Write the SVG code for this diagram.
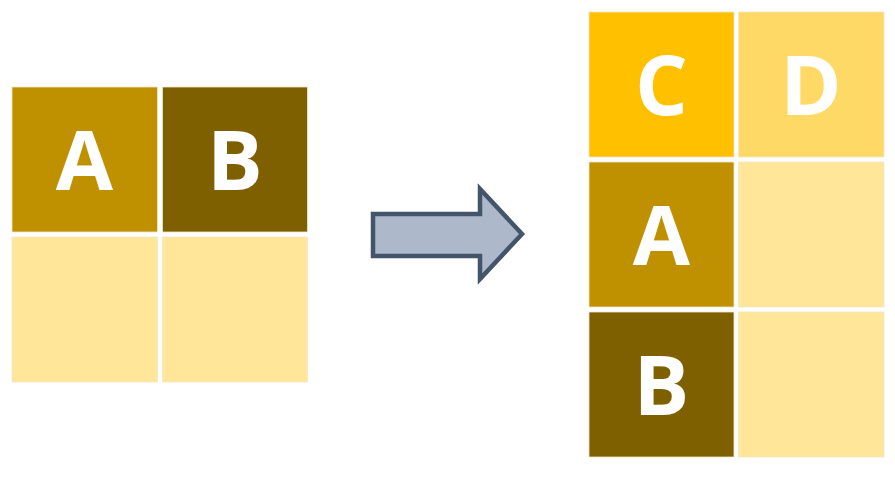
<svg xmlns="http://www.w3.org/2000/svg" width="895" height="495" viewBox="0 0 895 495">
<style>
.cell{stroke:#f2e6c8;stroke-width:0.8}
.lbl{font-family:"Open Sans","Liberation Sans",sans-serif;font-weight:bold;font-size:83px;fill:#ffffff;text-anchor:middle}
.a{fill:#bf9000}.b{fill:#7f6000}.c{fill:#ffc000}.d{fill:#ffd966}.l{fill:#ffe699}
</style>
<rect width="895" height="495" fill="#ffffff"/>
<g id="left-A"><rect class="cell a" x="12" y="87" width="145.5" height="145"/><text class="lbl" x="84.5" y="190">A</text></g>
<g id="left-B"><rect class="cell b" x="162.5" y="87" width="145" height="145"/><text class="lbl" x="235" y="190">B</text></g>
<g id="left-E1"><rect class="cell l" x="12" y="237" width="145.5" height="145"/></g>
<g id="left-E2"><rect class="cell l" x="162.5" y="237" width="145" height="145"/></g>
<g id="connectors">
<path d="M373,214 L480,214 L480,189 L522,234 L480,279 L480,256 L373,256 Z" fill="#adb9ca" stroke="#44546a" stroke-width="4.5" stroke-linejoin="miter"/>
</g>
<g id="right-C"><rect class="cell c" x="589" y="12" width="145" height="145"/><text class="lbl" x="661.5" y="115">C</text></g>
<g id="right-D"><rect class="cell d" x="738.5" y="12" width="145.5" height="145"/><text class="lbl" x="811" y="115">D</text></g>
<g id="right-A"><rect class="cell a" x="589" y="162" width="145" height="145"/><text class="lbl" x="661.5" y="265">A</text></g>
<g id="right-E1"><rect class="cell l" x="738.5" y="162" width="145.5" height="145"/></g>
<g id="right-B"><rect class="cell b" x="589" y="312" width="145" height="145"/><text class="lbl" x="661.5" y="415">B</text></g>
<g id="right-E2"><rect class="cell l" x="738.5" y="312" width="145.5" height="145"/></g>
</svg>
